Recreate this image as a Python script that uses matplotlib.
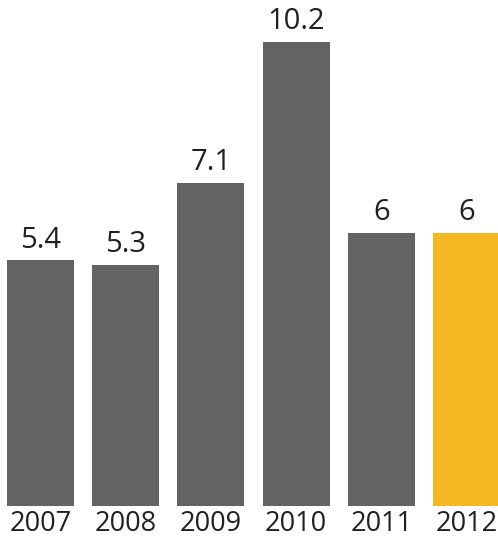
import matplotlib.pyplot as plt

years = ['2007', '2008', '2009', '2010', '2011', '2012']
values = [5.4, 5.3, 7.1, 10.2, 6, 6]
labels = ['5.4', '5.3', '7.1', '10.2', '6', '6']
colors = ['#636364'] * 5 + ['#F4B922']

plt.rcParams['font.family'] = ['Open Sans', 'DejaVu Sans']

fig = plt.figure(figsize=(4.98, 5.45), dpi=100)
ax = fig.add_axes([0, 39 / 545, 1, 506 / 545])

x = range(len(years))
ax.bar(x, values, width=0.786, color=colors)
for xi, v, lab in zip(x, values, labels):
    ax.annotate(lab, (xi, v), xytext=(0, 4), textcoords='offset points',
                ha='center', va='bottom', fontsize=21, color='#231f20')

ax.set_xlim(-0.475, 5.37)
ax.set_ylim(0, 11.12)
ax.set_xticks(list(x))
ax.set_xticklabels(years, fontsize=19.5, color='#231f20')
ax.tick_params(axis='x', length=0, pad=3)
ax.set_yticks([])
for s in ax.spines.values():
    s.set_visible(False)

fig.savefig('out.png', dpi=100)
